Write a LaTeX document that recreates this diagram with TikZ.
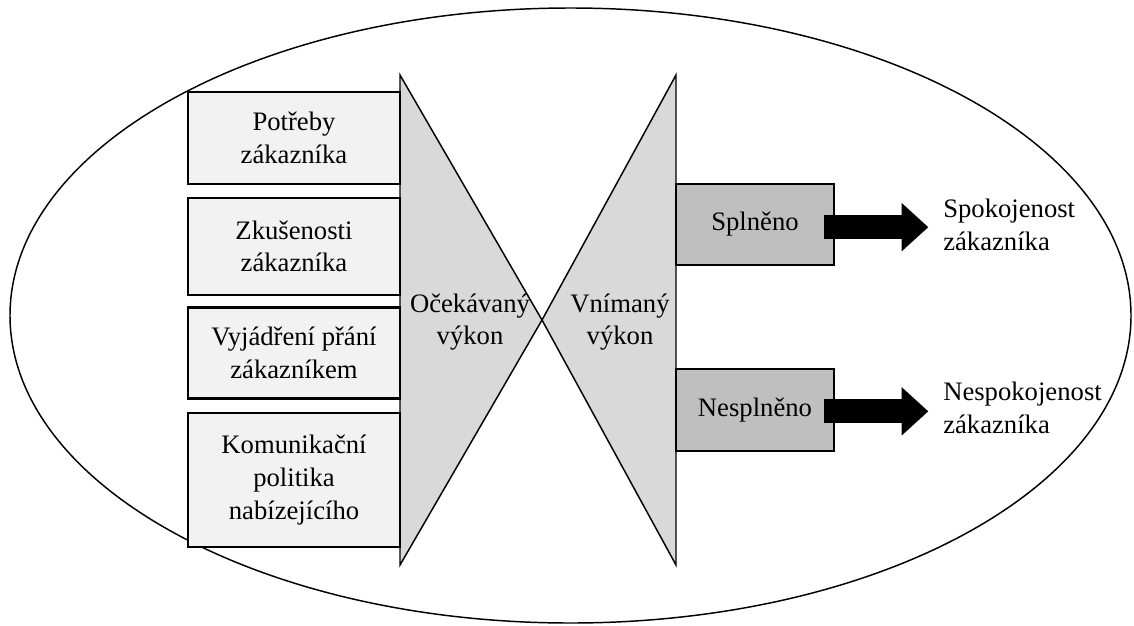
\documentclass[tikz,border=0pt]{standalone}
\usepackage{fontspec}
\setmainfont{Liberation Serif}
\usetikzlibrary{positioning,arrows.meta}
\definecolor{boxgray}{HTML}{F2F2F2}
\definecolor{trigray}{HTML}{D9D9D9}
\definecolor{resgray}{HTML}{BFBFBF}
\begin{document}
\begin{tikzpicture}[x=0.75pt,y=-0.75pt,line join=miter,font=\fontsize{20}{24.5}\selectfont,
  inbox/.style={draw,line width=1.6pt,fill=boxgray,align=center,minimum width=159pt,inner sep=0pt},
  resbox/.style={draw,line width=1.6pt,fill=resgray,minimum width=118.5pt,inner sep=0pt},
  tri/.style={draw,line width=1.1pt,fill=trigray},
  outcome/.style={align=left,anchor=west,inner sep=0pt},
  bigarrow/.style={line width=18pt,-{Triangle[width=35pt,length=20pt]}}]
\useasboundingbox (0,0) rectangle (1134,625);
\draw[line width=1.1pt] (570.5,315.5) ellipse [x radius=560.5,y radius=307.5];
% trojuhelniky
\coordinate (apex) at (542,320);
\draw[tri] (400,75) -- (apex) -- (400,565) -- cycle;
\draw[tri] (676,75) -- (apex) -- (676,565) -- cycle;
\node at (470,322) [align=center]{Očekávaný\\výkon};
\node at (620,322) [align=center]{Vnímaný\\výkon};
% vstupy
\node[inbox,minimum height=69pt] (potreby) at (294,138) {Potřeby\\zákazníka};
\node[inbox,minimum height=72.75pt] (zkusenosti) at (294,246.5) {Zkušenosti\\zákazníka};
\node[inbox,minimum height=68.25pt] (prani) at (294,353) {Vyjádření přání\\zákazníkem};
\node[inbox,minimum height=100.5pt] (komunikace) at (294,480) {Komunikační\\politika\\nabízejícího};
% vystupy
\node[resbox,minimum height=60.75pt] (splneno) at (755,224.5) {Splněno};
\node[resbox,minimum height=61.5pt] (nesplneno) at (755,410) {Nesplněno};
\node[outcome] (spokojenost) at (943,225) {Spokojenost\\zákazníka};
\node[outcome] (nespokojenost) at (943,408) {Nespokojenost\\zákazníka};
\draw[bigarrow,shorten >=11pt] ([xshift=-8.25pt,yshift=-2pt]splneno.east) -- ([yshift=-2pt]splneno.east -| spokojenost.west);
\draw[bigarrow,shorten >=11pt] ([xshift=-8.25pt,yshift=-1pt]nesplneno.east) -- ([yshift=-1pt]nesplneno.east -| nespokojenost.west);
\end{tikzpicture}
\end{document}
